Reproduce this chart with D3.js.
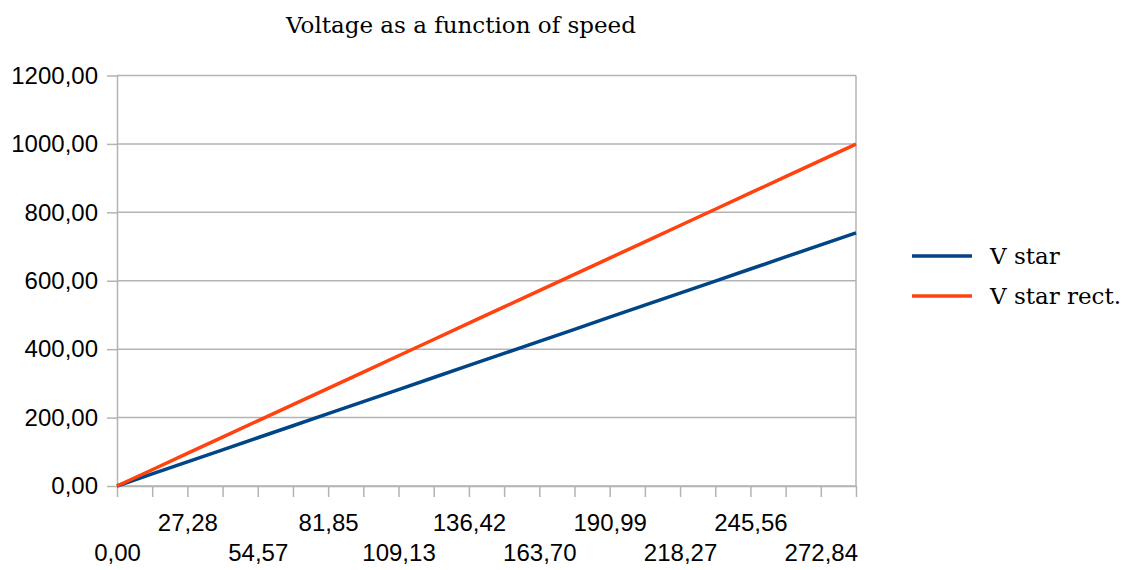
<!DOCTYPE html>
<html>
<head>
<meta charset="utf-8">
<script src="https://cdn.jsdelivr.net/npm/d3@7"></script>
<style>
  body { margin: 0; background: #fff; }
  .axis text { font-family: "Liberation Sans", Arial, sans-serif; font-size: 24px; fill: #000; }
  .axis path, .axis line { stroke: #b3b3b3; stroke-width: 1.5; }
  .serif { font-family: "DejaVu Serif", serif; font-size: 23px; fill: #000; }
</style>
</head>
<body>
<div id="chart"></div>
<script>
// Speed categories (x axis)
let speeds = [0.00, 13.64, 27.28, 40.92, 54.57, 68.21, 81.85, 95.49, 109.13, 122.78, 136.42,
              150.06, 163.70, 177.34, 190.99, 204.63, 218.27, 231.91, 245.56, 259.20, 272.84, 286.48];

// Series values
let vStar = [0, 35.2, 70.5, 105.7, 141.0, 176.2, 211.4, 246.7, 281.9, 317.2, 352.4,
             387.6, 422.9, 458.1, 493.4, 528.6, 563.8, 599.1, 634.3, 669.6, 704.8, 740.0];
let vStarRect = [0, 47.6, 95.2, 142.8, 190.4, 238.0, 285.5, 333.1, 380.7, 428.3, 475.9,
                 523.5, 571.1, 618.7, 666.3, 713.9, 761.5, 809.1, 856.7, 904.3, 951.9, 999.4];

let yTicks = [0, 200, 400, 600, 800, 1000, 1200];
let seriesNames = ["V star", "V star rect."];
let seriesColors = ["#004586", "#ff420e"];

let svgWidth = 1126, svgHeight = 570;
let plot = { left: 117, right: 856, top: 75.5, bottom: 486 };

let svg = d3.select('#chart')
            .append('svg')
            .attr('width', svgWidth)
            .attr('height', svgHeight);

let comma = d => d3.format(".2f")(d).replace(".", ",");

// Scales
let xScale = d3.scalePoint()
               .domain(d3.range(speeds.length))
               .range([plot.left, plot.right])
               .padding(0);
let yScale = d3.scaleLinear()
               .domain([0, 1200])
               .range([plot.bottom, plot.top]);

// Title
svg.append('text')
   .attr('class', 'serif')
   .attr('x', 461)
   .attr('y', 33)
   .attr('text-anchor', 'middle')
   .text('Voltage as a function of speed');

// Horizontal grid
svg.append('g')
   .selectAll('line')
   .data(yTicks)
   .enter()
   .append('line')
   .attr('x1', plot.left)
   .attr('x2', plot.right)
   .attr('y1', d => yScale(d))
   .attr('y2', d => yScale(d))
   .attr('stroke', '#b3b3b3')
   .attr('stroke-width', 1.5);

// Right border of the plot area
svg.append('line')
   .attr('x1', plot.right).attr('x2', plot.right)
   .attr('y1', plot.top).attr('y2', plot.bottom)
   .attr('stroke', '#b3b3b3')
   .attr('stroke-width', 1.5);

// Y axis
let yAxis = d3.axisLeft(yScale)
              .tickValues(yTicks)
              .tickSize(10)
              .tickSizeOuter(0)
              .tickPadding(9)
              .tickFormat(comma);
svg.append('g')
   .attr('class', 'axis')
   .attr('transform', `translate(${plot.left},0)`)
   .call(yAxis);

// X axis, labels on every other tick, staggered on two rows
let xAxis = d3.axisBottom(xScale)
              .tickSize(11)
              .tickSizeOuter(0)
              .tickFormat(i => i % 2 === 0 ? comma(speeds[i]) : "");
let xg = svg.append('g')
   .attr('class', 'axis')
   .attr('transform', `translate(0,${plot.bottom})`)
   .call(xAxis);
xg.selectAll('.tick text')
  .attr('dy', null)
  .attr('y', i => (i / 2) % 2 === 0 ? 75 : 45);

// Lines
let allSeries = [vStar, vStarRect];
let line = d3.line()
             .x((d, i) => xScale(i))
             .y(d => yScale(d));

svg.append('g')
   .selectAll('path')
   .data(allSeries)
   .enter()
   .append('path')
   .attr('d', d => line(d))
   .attr('fill', 'none')
   .attr('stroke', (d, i) => seriesColors[i])
   .attr('stroke-width', 3.5);

// Legend
let legend = svg.append('g')
   .selectAll('g')
   .data(seriesNames)
   .enter()
   .append('g')
   .attr('transform', (d, i) => `translate(912, ${256 + i * 40})`);

legend.append('line')
      .attr('x1', 0).attr('x2', 60)
      .attr('y1', 0).attr('y2', 0)
      .attr('stroke', (d, i) => seriesColors[i])
      .attr('stroke-width', 3.5);

legend.append('text')
      .attr('class', 'serif')
      .attr('x', 78)
      .attr('y', 8)
      .text(d => d);
</script>
</body>
</html>
